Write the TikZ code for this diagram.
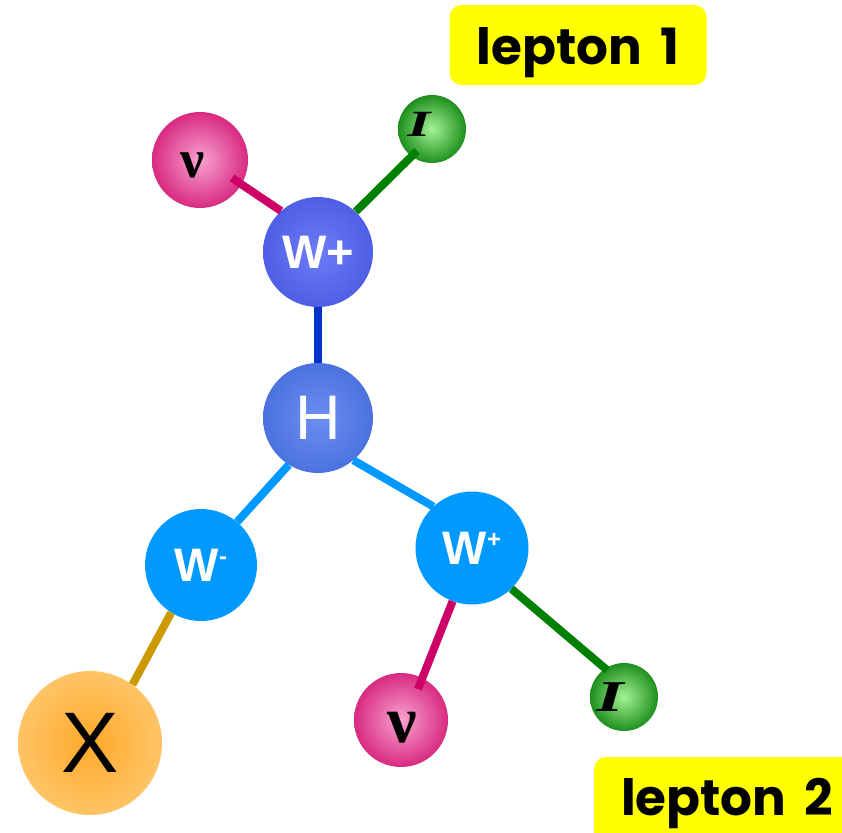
\documentclass[tikz,border=0pt]{standalone}
\usepackage{fontspec}
\setmainfont{Liberation Sans}
\newfontfamily\greekf{Liberation Serif}
\newfontfamily\comicf{Poppins}
\usetikzlibrary{calc}
\definecolor{nuin}{HTML}{F8A2D0}
\definecolor{nuout}{HTML}{D82A82}
\definecolor{lin}{HTML}{A6F296}
\definecolor{lout}{HTML}{1E8F1E}
\definecolor{wtopin}{HTML}{6C7CF6}
\definecolor{wtopout}{HTML}{4F5FE6}
\definecolor{hin}{HTML}{6A8EF0}
\definecolor{hout}{HTML}{4C72E0}
\definecolor{wlow}{HTML}{0099FF}
\definecolor{xin}{HTML}{FFA82A}
\definecolor{xout}{HTML}{FFC466}
\definecolor{magline}{HTML}{CC0066}
\definecolor{grnline}{HTML}{008000}
\definecolor{blueline}{HTML}{0033CC}
\definecolor{ltblue}{HTML}{0099FF}
\definecolor{goldline}{HTML}{CC9900}
\definecolor{lepyel}{HTML}{FFFF00}
\tikzset{
  ball/.style={circle, inner sep=0pt, minimum size=#1},
  nuball/.style={ball=#1, shade, inner color=nuin, outer color=nuout},
  lball/.style={ball=#1, shade, inner color=lin, outer color=lout},
  bond/.style={line width=8pt},
  wlabel/.style={text=white, font=\fontsize{47}{47}\selectfont\bfseries},
  nutext/.style={inner sep=0pt, font=\greekf\bfseries\fontsize{#1}{#1}\selectfont},
  ltext/.style={inner sep=0pt, font=\greekf\bfseries\itshape\fontsize{#1}{#1}\selectfont},
  lepbox/.style={fill=lepyel, rounded corners=12pt, inner sep=0pt, anchor=base,
    font=\comicf\bfseries\fontsize{50}{50}\selectfont}
}
\begin{document}
\begin{tikzpicture}[x=1pt, y=-1pt]
\useasboundingbox (0,0) rectangle (842,832);
% nodes
\node[nuball=96] (nu1) at (200,160) {};
\node[lball=68] (l1) at (432,129) {};
\node[ball=110, shade, inner color=wtopin, outer color=wtopout, wlabel] (Wp1) at (318,252) {W+};
\node[ball=110, shade, inner color=hin, outer color=hout, text=white,
      font=\fontsize{63}{63}\selectfont] (H) at (318,418) {H};
\node[ball=112, fill=wlow, wlabel] (Wm) at (201,565)
  {W\raisebox{17pt}{\fontsize{24}{24}\selectfont -}};
\node[ball=113, fill=wlow, wlabel] (Wp2) at (472,548)
  {W\raisebox{17pt}{\fontsize{24}{24}\selectfont +}};
\node[ball=144, shade, inner color=xin, outer color=xout, text=black,
      font=\fontsize{86}{86}\selectfont] (X) at (90,743) {X};
\node[nuball=94] (nu2) at (401,720) {};
\node[lball=68] (l2) at (624,697) {};
% glyphs inside the lepton balls
\node[nutext=54] (nu1t) at ($(nu1)+(-7,5)$) {ν};
\node[nutext=66] (nu2t) at ($(nu2)+(1,8)$) {ν};
\node[ltext=37] (l1t) at ($(l1)+(-13,-5)$) {\scalebox{1.6}[1]{I}};
\node[ltext=44] (l2t) at ($(l2)+(-14,0)$) {\scalebox{1.6}[1]{I}};
% bonds
\draw[bond, magline] ($(nu1)+(32,18)$) -- (Wp1.132);
\draw[bond, grnline] ($(l1)+(-15,22)$) -- (Wp1.47);
\draw[bond, blueline] (Wp1.south) -- (H.north);
\draw[bond, ltblue] (H.238) -- (Wm.50);
\draw[bond, ltblue] (H.310) -- (Wp2.133);
\draw[bond, goldline] (Wm.238) -- (X.54);
\draw[bond, magline] (Wp2.250) -- ($(nu2)+(17,-31)$);
\draw[bond, grnline] (Wp2.314) -- ($(l2)+(-17,-27)$);
% lepton labels
\node[lepbox, minimum width=257pt, minimum height=80pt, text height=45pt, text depth=5pt]
  (lep1) at (578,65) {lepton\hspace{18pt}1};
\node[lepbox, minimum width=266pt, minimum height=88pt, text height=33pt, text depth=5pt]
  (lep2) at (727,815) {lepton\hspace{18pt}2};
\end{tikzpicture}
\end{document}
